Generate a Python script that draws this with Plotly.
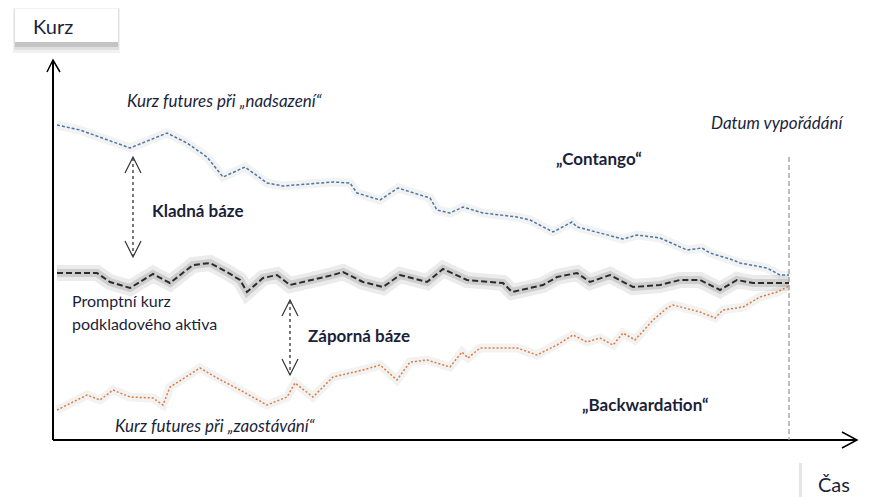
import plotly.graph_objects as go

# days from start of contract, price in arbitrary units
days_up = [0, 23, 73, 110, 130, 150, 166, 188, 210, 226, 276, 293, 300, 323, 341, 373, 380, 393,
           406, 426, 460, 473, 496, 515, 520, 543, 566, 580, 603, 630, 645, 653, 676, 683, 710, 723, 732]
futures_up = [31.5, 31.0, 29.2, 30.7, 29.7, 28.3, 26.3, 27.3, 25.7, 25.4, 25.8, 25.7, 24.7, 24.0, 25.2,
              24.2, 23.0, 22.7, 23.3, 22.7, 22.3, 22.0, 20.8, 21.8, 21.3, 20.7, 20.1, 20.5, 20.2, 19.0,
              19.2, 18.7, 18.0, 17.7, 17.2, 16.5, 16.5]

days_spot = [0, 40, 53, 73, 96, 113, 136, 153, 170, 183, 190, 206, 220, 233, 276, 286, 306, 326, 343,
             370, 386, 410, 446, 455, 486, 500, 520, 533, 553, 576, 603, 623, 643, 663, 680, 696, 732]
spot = [16.7, 16.7, 15.8, 15.2, 16.6, 15.7, 17.5, 17.7, 16.8, 16.0, 14.8, 16.2, 16.5, 15.5, 16.5, 16.8,
        15.8, 15.3, 16.5, 15.8, 17.1, 16.0, 15.7, 14.8, 15.5, 16.3, 16.7, 15.8, 16.5, 15.3, 15.5, 16.0,
        16.0, 15.0, 16.0, 15.7, 15.7]

days_down = [0, 30, 43, 56, 73, 96, 106, 113, 143, 160, 183, 210, 230, 238, 256, 276, 306, 323, 340,
             353, 370, 393, 405, 411, 423, 460, 480, 500, 516, 530, 543, 556, 566, 578, 596, 610, 616,
             643, 658, 666, 686, 703, 720, 732]
futures_down = [3.0, 4.5, 4.0, 5.0, 4.3, 4.2, 3.5, 5.3, 7.2, 6.2, 5.0, 3.5, 4.3, 5.7, 4.3, 6.3, 7.0, 7.5,
                6.0, 7.8, 8.0, 7.3, 8.8, 8.2, 9.2, 9.2, 8.5, 9.5, 10.5, 9.8, 10.2, 9.5, 10.7, 10.0, 12.0,
                13.2, 13.5, 12.8, 12.2, 13.0, 13.3, 14.3, 14.8, 15.4]

settlement_day = 732
FONT = "Lato"
TXT = "#1c1f3a"

fig = go.Figure()

# soft shadows under the lines
fig.add_trace(go.Scatter(x=days_up, y=futures_up, mode="lines", hoverinfo="skip", showlegend=False,
                         line=dict(color="rgba(0,0,0,0.05)", width=9)))
fig.add_trace(go.Scatter(x=days_down, y=futures_down, mode="lines", hoverinfo="skip", showlegend=False,
                         line=dict(color="rgba(0,0,0,0.05)", width=9)))
fig.add_trace(go.Scatter(x=days_spot, y=spot, mode="lines", hoverinfo="skip", showlegend=False,
                         line=dict(color="rgba(0,0,0,0.08)", width=16)))
fig.add_trace(go.Scatter(x=days_spot, y=spot, mode="lines", hoverinfo="skip", showlegend=False,
                         line=dict(color="rgba(0,0,0,0.12)", width=8)))

fig.add_trace(go.Scatter(x=days_up, y=futures_up, mode="lines", name="Contango", showlegend=False,
                         line=dict(color="#4a77a6", width=1.5, dash="3px,2px")))
fig.add_trace(go.Scatter(x=days_down, y=futures_down, mode="lines", name="Backwardation", showlegend=False,
                         line=dict(color="#e07a3c", width=1.5, dash="2px,2px")))
fig.add_trace(go.Scatter(x=days_spot, y=spot, mode="lines", name="Promptní kurz", showlegend=False,
                         line=dict(color="#2b2b2b", width=2, dash="6px,3px")))

shapes = [
    # axes with open arrow heads
    dict(type="line", x0=-4, y0=0, x1=-4, y1=38.0, line=dict(color="black", width=2)),
    dict(type="path", path="M -10,36.8 L -4,38.0 L 3,36.8", line=dict(color="black", width=1.5)),
    dict(type="line", x0=-4, y0=0, x1=800, y1=0, line=dict(color="black", width=2)),
    dict(type="path", path="M 785,0.8 L 800,0 L 785,-0.8", line=dict(color="black", width=1.5)),
    # settlement date
    dict(type="line", x0=settlement_day, y0=28.3, x1=settlement_day, y1=0,
         line=dict(color="#9a9a9a", width=1.3, dash="5px,3px")),
    # basis arrows
    dict(type="line", x0=76, y0=28.2, x1=76, y1=18.4, line=dict(color="#333", width=1.3, dash="dot")),
    dict(type="path", path="M 68,26.7 L 76,28.3 L 84,26.7", line=dict(color="#333", width=1.2)),
    dict(type="path", path="M 68,19.9 L 76,18.3 L 84,19.9", line=dict(color="#333", width=1.2)),
    dict(type="line", x0=233, y0=13.9, x1=233, y1=6.6, line=dict(color="#333", width=1.3, dash="dot")),
    dict(type="path", path="M 225,12.4 L 233,14.0 L 241,12.4", line=dict(color="#333", width=1.2)),
    dict(type="path", path="M 225,8.1 L 233,6.5 L 241,8.1", line=dict(color="#333", width=1.2)),
    # "Kurz" box with drop shadow
    dict(type="rect", x0=-44, y0=43.2, x1=63, y1=38.7, line_width=0, fillcolor="rgba(0,0,0,0.05)"),
    dict(type="rect", x0=-43, y0=43.1, x1=62, y1=39.0, line_width=0, fillcolor="rgba(0,0,0,0.07)"),
    dict(type="rect", x0=-42, y0=40.0, x1=61, y1=39.3, line_width=0, fillcolor="rgba(0,0,0,0.12)"),
    dict(type="rect", x0=-42, y0=43.1, x1=61, y1=39.8, line_width=0, fillcolor="white"),
    # "Čas" box shadow
    dict(type="rect", x0=742, y0=-2.3, x1=745, y1=-5.7, line_width=0, fillcolor="rgba(0,0,0,0.10)"),
]

ann = [
    dict(x=-4, y=41.4, text="Kurz", font=dict(size=20)),
    dict(x=777, y=-4.4, text="Čas", font=dict(size=20)),
    dict(x=167, y=34.0, text="<i>Kurz futures při „nadsazení“</i>", font=dict(size=17)),
    dict(x=720, y=31.8, text="<i>Datum vypořádání</i>", font=dict(size=17)),
    dict(x=542, y=28.2, text="<b>„Contango“</b>", font=dict(size=17)),
    dict(x=93, y=23.0, text="<b>Kladná báze</b>", xanchor="left", font=dict(size=17)),
    dict(x=13, y=14.0, text="Promptní kurz", xanchor="left", font=dict(size=16)),
    dict(x=13, y=11.7, text="podkladového aktiva", xanchor="left", font=dict(size=16)),
    dict(x=249, y=10.5, text="<b>Záporná báze</b>", xanchor="left", font=dict(size=17)),
    dict(x=588, y=3.6, text="<b>„Backwardation“</b>", font=dict(size=17)),
    dict(x=158, y=1.5, text="<i>Kurz futures při „zaostávání“</i>", font=dict(size=17)),
]
for a in ann:
    a.update(xref="x", yref="y", showarrow=False)
    a["font"].update(family=FONT, color=TXT)

fig.update_layout(
    width=896, height=497, autosize=False,
    margin=dict(l=0, r=0, t=0, b=0),
    plot_bgcolor="white", paper_bgcolor="white",
    xaxis=dict(range=[-57, 839], visible=False, fixedrange=True),
    yaxis=dict(range=[-5.7, 44.0], visible=False, fixedrange=True),
    shapes=shapes,
    annotations=ann,
    font=dict(family=FONT),
)

# drop the page's default body margin so the figure sits at the window corner
fig.write_html("out.html", config={"displayModeBar": False},
               post_script="document.body.style.margin='0';document.body.style.overflow='hidden';")
